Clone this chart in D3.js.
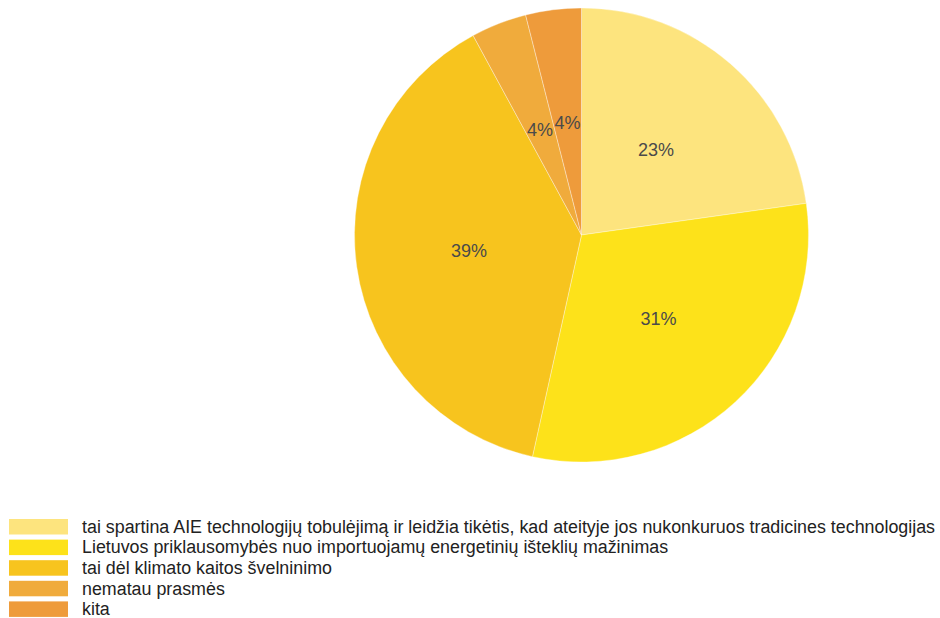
<!DOCTYPE html>
<html>
<head>
<meta charset="utf-8">
<script src="https://cdn.jsdelivr.net/npm/d3@7"></script>
<style>
  html, body { margin: 0; padding: 0; background: #fff; }
  svg { display: block; }
</style>
</head>
<body>
<svg id="chart" width="940" height="618"></svg>
<script>
// Answer categories and response shares
const categories = [
  "tai spartina AIE technologijų tobulėjimą ir leidžia tikėtis, kad ateityje jos nukonkuruos tradicines technologijas",
  "Lietuvos priklausomybės nuo importuojamų energetinių išteklių mažinimas",
  "tai dėl klimato kaitos švelninimo",
  "nematau prasmės",
  "kita"
];
const values = [23, 31, 39, 4, 4];
const colors = ["#fde47e", "#fde21a", "#f7c41e", "#f0ab3c", "#ee9b3b"];

const svg = d3.select("#chart");
const cx = 581.5, cy = 235, radius = 227;
const font = "Arial, 'Liberation Sans', sans-serif";

const total = d3.sum(values);
const pie = d3.pie().sort(null).value(d => d)(values);
const arc = d3.arc().innerRadius(0).outerRadius(radius);
const labelArc = d3.arc().innerRadius(radius * 0.5).outerRadius(radius * 0.5);

const g = svg.append("g").attr("transform", `translate(${cx},${cy})`);

g.selectAll("path.slice")
  .data(pie)
  .join("path")
  .attr("class", "slice")
  .attr("d", arc)
  .attr("fill", (d, i) => colors[i])
  .attr("stroke", "#ffffff")
  .attr("stroke-opacity", 0.35)
  .attr("stroke-width", 1);

g.selectAll("text.pct")
  .data(pie)
  .join("text")
  .attr("class", "pct")
  .attr("transform", d => `translate(${labelArc.centroid(d)})`)
  .attr("text-anchor", "middle")
  .attr("dy", "0.35em")
  .attr("font-family", font)
  .attr("font-size", 18)
  .attr("fill", "#4a4a4a")
  .text(d => Math.round(d.value / total * 100) + "%");

// Legend
const legend = svg.append("g").attr("transform", "translate(9,519)");
const rowH = 20.6;
const rows = legend.selectAll("g.row")
  .data(categories)
  .join("g")
  .attr("class", "row")
  .attr("transform", (d, i) => `translate(0,${i * rowH})`);

rows.append("rect")
  .attr("width", 59)
  .attr("height", 15.5)
  .attr("fill", (d, i) => colors[i]);

rows.append("text")
  .attr("x", 73)
  .attr("y", 8)
  .attr("dy", "0.33em")
  .attr("font-family", font)
  .attr("font-size", 17.85)
  .attr("fill", "#222")
  .text(d => d);
</script>
</body>
</html>
